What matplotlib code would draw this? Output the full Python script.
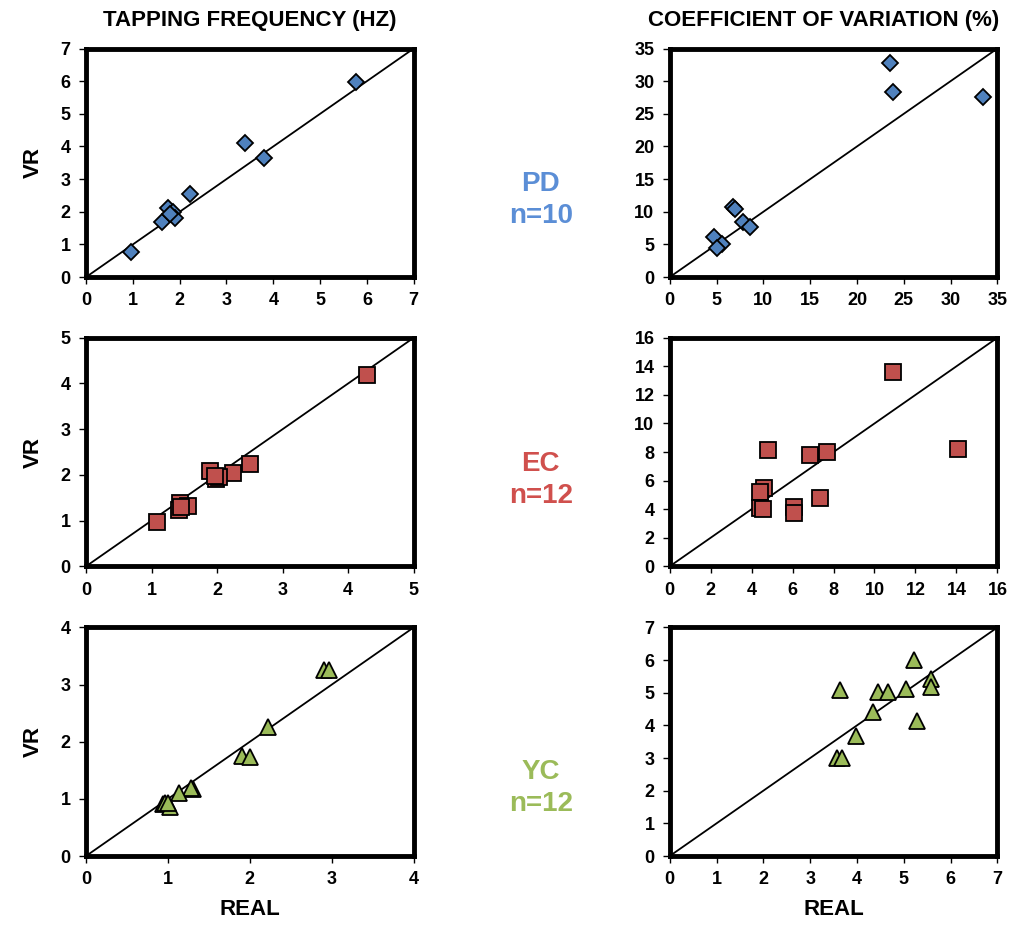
import numpy as np
import matplotlib.pyplot as plt

plt.rcParams['font.family'] = ['Liberation Sans', 'DejaVu Sans']

# PD group (n=10)
pd_freq_real = [0.97, 1.62, 1.76, 1.85, 1.91, 1.80, 2.23, 3.39, 3.80, 5.76]
pd_freq_vr = [0.78, 1.70, 2.12, 2.00, 1.81, 1.92, 2.56, 4.11, 3.66, 5.97]
pd_cv_real = [23.5, 23.9, 33.5, 6.8, 7.0, 7.8, 8.6, 4.7, 5.6, 5.1]
pd_cv_vr = [32.8, 28.4, 27.6, 10.8, 10.5, 8.4, 7.6, 6.2, 5.1, 4.4]

# EC group (n=12)
ec_freq_real = [4.29, 2.50, 2.24, 1.89, 1.99, 2.03, 1.97, 1.43, 1.42, 1.56, 1.08, 1.45]
ec_freq_vr = [4.19, 2.23, 2.05, 2.09, 1.92, 1.96, 1.97, 1.39, 1.23, 1.32, 0.96, 1.30]
ec_cv_real = [10.9, 14.1, 4.8, 6.85, 7.7, 4.6, 4.4, 7.35, 6.05, 6.05, 4.4, 4.55]
ec_cv_vr = [13.6, 8.2, 8.15, 7.8, 8.0, 5.5, 5.2, 4.8, 4.15, 3.7, 4.05, 4.0]

# YC group (n=12)
yc_freq_real = [2.91, 2.97, 2.22, 1.91, 2.00, 1.30, 1.28, 1.14, 0.94, 0.97, 1.03, 1.00]
yc_freq_vr = [3.26, 3.26, 2.26, 1.75, 1.73, 1.17, 1.19, 1.10, 0.91, 0.92, 0.85, 0.93]
yc_cv_real = [5.21, 5.58, 5.58, 3.64, 4.45, 4.67, 5.05, 4.34, 5.28, 3.97, 3.57, 3.68]
yc_cv_vr = [6.00, 5.42, 5.18, 5.08, 5.01, 5.01, 5.12, 4.40, 4.14, 3.68, 3.00, 3.00]

freq_max = [7, 5, 4]
cv_max = [35, 16, 7]
cv_step = [5, 2, 1]
groups = ['PD\nn=10', 'EC\nn=12', 'YC\nn=12']
markers = ['D', 's', '^']
marker_sizes = [8, 11, 11]
face_colors = ['#4F81BD', '#C0504D', '#9BBB59']
text_colors = ['#5B8ED6', '#D0504D', '#9BBB59']

freq_data = [(pd_freq_real, pd_freq_vr), (ec_freq_real, ec_freq_vr), (yc_freq_real, yc_freq_vr)]
cv_data = [(pd_cv_real, pd_cv_vr), (ec_cv_real, ec_cv_vr), (yc_cv_real, yc_cv_vr)]

fig = plt.figure(figsize=(10.24, 9.33), dpi=100)

col_left = [0.084, 0.654]
col_width = 0.320
row_bottom = [0.703, 0.393, 0.0825]
row_height = 0.245
label_y = [0.786, 0.486, 0.155]


def style_axes(ax, vmax, step):
    ax.set_xlim(0, vmax)
    ax.set_ylim(0, vmax)
    ticks = np.arange(0, vmax + step, step)
    ax.set_xticks(ticks)
    ax.set_yticks(ticks)
    ax.tick_params(direction='out', length=5, width=1, labelsize=13, pad=6)
    for lab in ax.get_xticklabels() + ax.get_yticklabels():
        lab.set_fontweight('bold')
    for sp in ax.spines.values():
        sp.set_linewidth(3.5)
    ax.plot([0, vmax], [0, vmax], color='black', lw=1.3, zorder=1)


for r in range(3):
    # frequency panel
    ax = fig.add_axes([col_left[0], row_bottom[r], col_width, row_height])
    style_axes(ax, freq_max[r], 1)
    x, y = freq_data[r]
    ax.plot(x, y, linestyle='none', marker=markers[r], ms=marker_sizes[r],
            mfc=face_colors[r], mec='black', mew=1.3, zorder=3, clip_on=False)
    ax.set_ylabel('VR', fontsize=16, fontweight='bold', labelpad=12)

    # CV panel
    ax2 = fig.add_axes([col_left[1], row_bottom[r], col_width, row_height])
    style_axes(ax2, cv_max[r], cv_step[r])
    x, y = cv_data[r]
    ax2.plot(x, y, linestyle='none', marker=markers[r], ms=marker_sizes[r],
             mfc=face_colors[r], mec='black', mew=1.3, zorder=3, clip_on=False)

    if r == 2:
        ax.set_xlabel('REAL', fontsize=16, fontweight='bold', labelpad=8)
        ax2.set_xlabel('REAL', fontsize=16, fontweight='bold', labelpad=8)

    fig.text(0.528, label_y[r], groups[r], ha='center', va='center',
             fontsize=20, fontweight='bold', color=text_colors[r], linespacing=1.3)

fig.text(col_left[0] + col_width / 2, 0.978, 'TAPPING FREQUENCY (HZ)', ha='center', va='center',
         fontsize=16, fontweight='bold')
fig.text(col_left[1] + col_width / 2 - 0.01, 0.978, 'COEFFICIENT OF VARIATION (%)', ha='center',
         va='center', fontsize=16, fontweight='bold')

fig.savefig('out.png', dpi=100)
